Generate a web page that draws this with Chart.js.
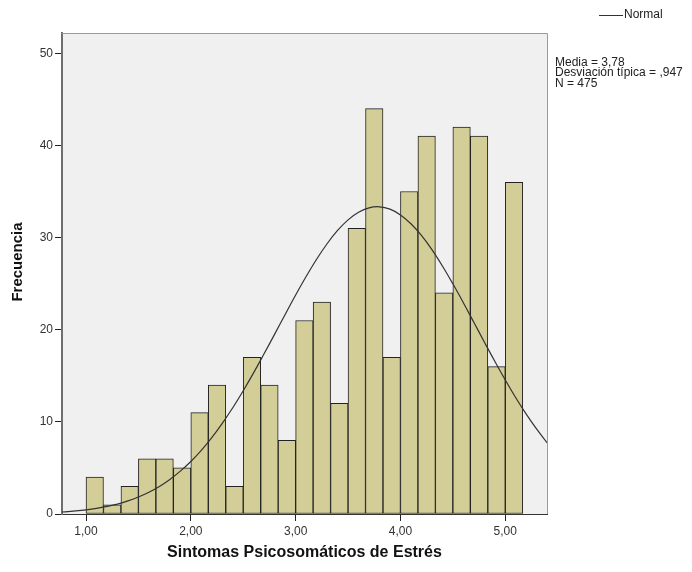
<!DOCTYPE html>
<html>
<head>
<meta charset="utf-8">
<script src="https://cdn.jsdelivr.net/npm/chart.js@4"></script>
<style>
  html, body { margin: 0; padding: 0; background: #fff; }
  #wrap { width: 692px; height: 572px; }
</style>
</head>
<body>
<div id="wrap"><canvas id="histChart" width="692" height="572"></canvas></div>
<script>
// Histogram counts, bins of 1/6 starting at 1,00
const binStart = 1.0;
const binWidth = 1 / 6;
const counts = [4, 1, 3, 6, 6, 5, 11, 14, 3, 17, 14, 8, 21, 23, 12, 31, 44, 17, 35, 41, 24, 42, 41, 16, 36];

// Normal curve
const curveX = [0.7, 0.8, 0.9, 1.0, 1.1, 1.2, 1.3, 1.4, 1.5, 1.6, 1.7, 1.8, 1.9, 2.0, 2.1, 2.2, 2.3, 2.4, 2.5, 2.6, 2.7, 2.8, 2.9, 3.0,
    3.1, 3.2, 3.3, 3.4, 3.5, 3.6, 3.7, 3.8, 3.9, 4.0, 4.1, 4.2, 4.3, 4.4, 4.5, 4.6, 4.7, 4.8, 4.9, 5.0, 5.1, 5.2, 5.3, 5.4, 5.5];
const curveY = [0.17, 0.24, 0.33, 0.45, 0.61, 0.82, 1.08, 1.42, 1.84, 2.36, 2.99, 3.75, 4.65, 5.70, 6.91, 8.29, 9.84, 11.53, 13.38, 15.34,
    17.41, 19.52, 21.66, 23.76, 25.77, 27.65, 29.33, 30.77, 31.92, 32.75, 33.23, 33.34, 33.08, 32.46, 31.50, 30.23, 28.69, 26.92, 24.98,
    22.93, 20.80, 18.67, 16.57, 14.54, 12.62, 10.84, 9.20, 7.72, 6.41];

const xTicks = [1, 2, 3, 4, 5];
const yTicks = [0, 10, 20, 30, 40, 50];

const statsLines = ['Media = 3,78', 'Desviación típica = ,947', 'N = 475'];

const FONT = "'Liberation Sans', Arial, sans-serif";

// plot background, frame, legend and side texts
const spssDecor = {
    id: 'spssDecor',
    beforeDraw(chart) {
        const { ctx, chartArea: a } = chart;
        ctx.save();
        ctx.fillStyle = '#f0f0f0';
        ctx.fillRect(a.left, a.top, a.right - a.left, a.bottom - a.top);
        ctx.restore();
    },
    afterDraw(chart) {
        const { ctx, chartArea: a } = chart;
        ctx.save();
        ctx.strokeStyle = '#9a9a9a';
        ctx.lineWidth = 1;
        ctx.beginPath();
        ctx.moveTo(a.left, a.top + 0.5);
        ctx.lineTo(a.right + 0.5, a.top + 0.5);
        ctx.lineTo(a.right + 0.5, a.bottom);
        ctx.stroke();

        // legend
        ctx.strokeStyle = '#333';
        ctx.beginPath();
        ctx.moveTo(599, 15.5);
        ctx.lineTo(623, 15.5);
        ctx.stroke();
        ctx.fillStyle = '#222';
        ctx.font = '12px ' + FONT;
        ctx.textBaseline = 'middle';
        ctx.textAlign = 'left';
        ctx.fillText('Normal', 624, 15);

        // stats
        ctx.textBaseline = 'alphabetic';
        statsLines.forEach((t, i) => ctx.fillText(t, 555, 65.5 + i * 10.5));

        // y axis title
        ctx.font = 'bold 15px ' + FONT;
        ctx.fillStyle = '#111';
        ctx.translate(18, 262);
        ctx.rotate(-Math.PI / 2);
        ctx.textAlign = 'center';
        ctx.textBaseline = 'middle';
        ctx.fillText('Frecuencia', 0, 0);
        ctx.restore();
    }
};

let histChart;

function initHistChart() {
    const ctx = document.getElementById('histChart').getContext('2d');
    histChart = new Chart(ctx, {
        data: {
            datasets: [
                {
                    type: 'line',
                    label: 'Normal',
                    data: curveX.map((x, i) => ({ x: x, y: curveY[i] })),
                    borderColor: '#333',
                    borderWidth: 1.2,
                    pointRadius: 0,
                    tension: 0.4,
                    fill: false,
                    order: 0
                },
                {
                    type: 'bar',
                    label: 'Frecuencia',
                    data: counts.map((c, i) => ({ x: binStart + (i + 0.5) * binWidth, y: c })),
                    backgroundColor: '#d3ce97',
                    borderColor: '#222',
                    borderWidth: 1,
                    borderSkipped: false,
                    barPercentage: 1,
                    categoryPercentage: 1,
                    order: 1
                }
            ]
        },
        options: {
            responsive: false,
            animation: false,
            events: [],
            layout: { padding: { top: 33, right: 145, left: 0, bottom: 0 } },
            plugins: {
                legend: { display: false },
                tooltip: { enabled: false }
            },
            scales: {
                x: {
                    type: 'linear',
                    offset: false,
                    min: 0.771,
                    max: 5.398,
                    afterBuildTicks: (s) => { s.ticks = xTicks.map(v => ({ value: v })); },
                    afterFit: (s) => { s.height = 58; },
                    grid: { offset: false, drawOnChartArea: false, tickLength: 7, tickColor: '#222' },
                    border: { color: '#333', width: 1 },
                    ticks: {
                        padding: 3,
                        color: '#333',
                        font: { family: FONT, size: 12 },
                        maxRotation: 0,
                        callback: (v) => v.toFixed(2).replace('.', ',')
                    },
                    title: {
                        display: true,
                        text: 'Sintomas Psicosomáticos de Estrés',
                        color: '#111',
                        font: { family: FONT, size: 16, weight: 'bold' },
                        padding: { top: 0, bottom: 10 }
                    }
                },
                y: {
                    min: 0,
                    max: 52.2,
                    afterBuildTicks: (s) => { s.ticks = yTicks.map(v => ({ value: v })); },
                    afterFit: (s) => { s.width = 62; },
                    grid: { drawOnChartArea: false, tickLength: 7, tickColor: '#222' },
                    border: { color: '#6e6e6e', width: 2 },
                    ticks: {
                        padding: 2,
                        color: '#333',
                        font: { family: FONT, size: 12 }
                    }
                }
            }
        },
        plugins: [spssDecor]
    });
}

document.addEventListener('DOMContentLoaded', function() {
    initHistChart();
});
</script>
</body>
</html>
